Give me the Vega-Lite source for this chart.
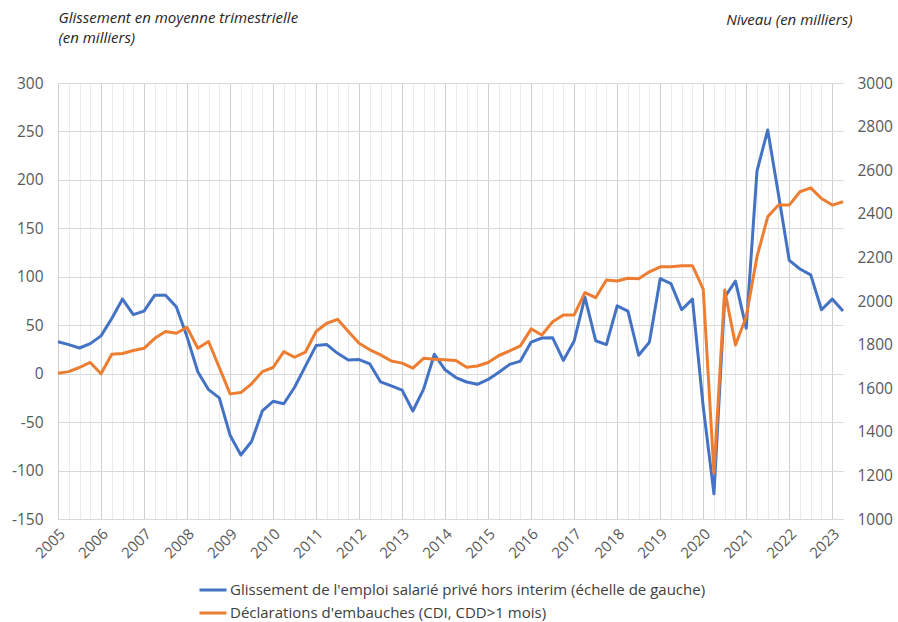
{
  "$schema": "https://vega.github.io/schema/vega-lite/v6.json",
  "width": 785,
  "height": 436,
  "autosize": {"type": "none"},
  "padding": {"left": 58, "top": 83, "right": 55, "bottom": 103},
  "background": "white",
  "config": {"font": "Open Sans", "view": {"stroke": null}},
  "data": {"values": [
    {"t": 2005.00, "g": 33, "d": 1669},
    {"t": 2005.25, "g": 30, "d": 1676},
    {"t": 2005.50, "g": 26.5, "d": 1695},
    {"t": 2005.75, "g": 31, "d": 1718},
    {"t": 2006.00, "g": 39, "d": 1666},
    {"t": 2006.25, "g": 57, "d": 1756},
    {"t": 2006.50, "g": 77, "d": 1759},
    {"t": 2006.75, "g": 61, "d": 1773},
    {"t": 2007.00, "g": 64.6, "d": 1783},
    {"t": 2007.25, "g": 81, "d": 1829},
    {"t": 2007.50, "g": 81, "d": 1860},
    {"t": 2007.75, "g": 69, "d": 1852},
    {"t": 2008.00, "g": 38, "d": 1879},
    {"t": 2008.25, "g": 2, "d": 1783},
    {"t": 2008.50, "g": -16.5, "d": 1814},
    {"t": 2008.75, "g": -25, "d": 1695},
    {"t": 2009.00, "g": -63.5, "d": 1574},
    {"t": 2009.25, "g": -84, "d": 1580},
    {"t": 2009.50, "g": -70, "d": 1620},
    {"t": 2009.75, "g": -38.5, "d": 1676},
    {"t": 2010.00, "g": -28.5, "d": 1695},
    {"t": 2010.25, "g": -31, "d": 1768},
    {"t": 2010.50, "g": -14, "d": 1742},
    {"t": 2010.75, "g": 7.5, "d": 1765},
    {"t": 2011.00, "g": 29, "d": 1860},
    {"t": 2011.25, "g": 30, "d": 1898},
    {"t": 2011.50, "g": 21, "d": 1916},
    {"t": 2011.75, "g": 14, "d": 1860},
    {"t": 2012.00, "g": 14.5, "d": 1806},
    {"t": 2012.25, "g": 10, "d": 1776},
    {"t": 2012.50, "g": -8.5, "d": 1753},
    {"t": 2012.75, "g": -12.7, "d": 1725},
    {"t": 2013.00, "g": -17, "d": 1715},
    {"t": 2013.25, "g": -38.5, "d": 1692},
    {"t": 2013.50, "g": -16, "d": 1737},
    {"t": 2013.75, "g": 20, "d": 1733},
    {"t": 2014.00, "g": 4, "d": 1730},
    {"t": 2014.25, "g": -4, "d": 1727},
    {"t": 2014.50, "g": -8.6, "d": 1696},
    {"t": 2014.75, "g": -11, "d": 1702},
    {"t": 2015.00, "g": -6, "d": 1718},
    {"t": 2015.25, "g": 1.4, "d": 1750},
    {"t": 2015.50, "g": 9.6, "d": 1771},
    {"t": 2015.75, "g": 13, "d": 1794},
    {"t": 2016.00, "g": 32.6, "d": 1872},
    {"t": 2016.25, "g": 36.8, "d": 1844},
    {"t": 2016.50, "g": 37, "d": 1905},
    {"t": 2016.75, "g": 13.7, "d": 1936},
    {"t": 2017.00, "g": 33.7, "d": 1936},
    {"t": 2017.25, "g": 79, "d": 2038},
    {"t": 2017.50, "g": 34, "d": 2015},
    {"t": 2017.75, "g": 30, "d": 2096},
    {"t": 2018.00, "g": 70, "d": 2092},
    {"t": 2018.25, "g": 64.6, "d": 2104},
    {"t": 2018.50, "g": 19, "d": 2102},
    {"t": 2018.75, "g": 32.6, "d": 2134},
    {"t": 2019.00, "g": 98, "d": 2157},
    {"t": 2019.25, "g": 93, "d": 2157},
    {"t": 2019.50, "g": 66, "d": 2162},
    {"t": 2019.75, "g": 77, "d": 2162},
    {"t": 2020.00, "g": -34, "d": 2055},
    {"t": 2020.25, "g": -124, "d": 1211},
    {"t": 2020.50, "g": 79, "d": 2050},
    {"t": 2020.75, "g": 95.5, "d": 1798},
    {"t": 2021.00, "g": 47, "d": 1928},
    {"t": 2021.25, "g": 209, "d": 2203},
    {"t": 2021.50, "g": 251.5, "d": 2386},
    {"t": 2021.75, "g": 185, "d": 2440},
    {"t": 2022.00, "g": 117, "d": 2440},
    {"t": 2022.25, "g": 108, "d": 2501},
    {"t": 2022.50, "g": 102, "d": 2519},
    {"t": 2022.75, "g": 66, "d": 2470},
    {"t": 2023.00, "g": 77, "d": 2440},
    {"t": 2023.25, "g": 64.6, "d": 2455}
  ]},
  "encoding": {
    "x": {
      "field": "t",
      "type": "quantitative",
      "scale": {"domain": [2005, 2023.25], "nice": false, "zero": false},
      "axis": {
        "title": null,
        "values": [2005,2005.25,2005.5,2005.75,2006,2006.25,2006.5,2006.75,2007,2007.25,2007.5,2007.75,2008,2008.25,2008.5,2008.75,2009,2009.25,2009.5,2009.75,2010,2010.25,2010.5,2010.75,2011,2011.25,2011.5,2011.75,2012,2012.25,2012.5,2012.75,2013,2013.25,2013.5,2013.75,2014,2014.25,2014.5,2014.75,2015,2015.25,2015.5,2015.75,2016,2016.25,2016.5,2016.75,2017,2017.25,2017.5,2017.75,2018,2018.25,2018.5,2018.75,2019,2019.25,2019.5,2019.75,2020,2020.25,2020.5,2020.75,2021,2021.25,2021.5,2021.75,2022,2022.25,2022.5,2022.75,2023],
        "labelExpr": "datum.value % 1 === 0 ? format(datum.value, 'd') : ''",
        "labelAngle": -45,
        "labelAlign": "right",
        "labelBaseline": "middle",
        "labelFontSize": 15,
        "labelColor": "#595959",
        "labelPadding": 12,
        "labelOffset": 4,
        "labelOverlap": false,
        "labelFlush": false,
        "ticks": false,
        "domainColor": "#d9d9d9",
        "grid": true,
        "gridColor": {"condition": {"test": "datum.value % 1 === 0", "value": "#d0d0d0"}, "value": "#ebebeb"},
        "gridWidth": 1
      }
    }
  },
  "layer": [
    {
      "mark": {"type": "line", "strokeWidth": 3, "strokeJoin": "round"},
      "encoding": {
        "y": {
          "field": "g",
          "type": "quantitative",
          "scale": {"domain": [-150, 300], "nice": false, "zero": false},
          "axis": {
            "orient": "left",
            "values": [-150, -100, -50, 0, 50, 100, 150, 200, 250, 300],
            "labelExpr": "toString(datum.value)",
            "labelFontSize": 15.5,
            "labelColor": "#595959",
            "labelPadding": 15,
            "ticks": false,
            "domain": false,
            "grid": true,
            "gridColor": "#d9d9d9",
            "title": ["Glissement en moyenne trimestrielle", "(en milliers)"],
            "titleAngle": 0,
            "titleAlign": "left",
            "titleBaseline": "alphabetic",
            "titleX": 0,
            "titleY": -61,
            "titleFontSize": 15,
            "titleFontStyle": "italic",
            "titleFontWeight": "normal",
            "titleLineHeight": 20,
            "titleColor": "#262626"
          }
        },
        "color": {
          "datum": "Glissement de l'emploi salarié privé hors interim (échelle de gauche)",
          "type": "nominal",
          "scale": {
            "domain": ["Glissement de l'emploi salarié privé hors interim (échelle de gauche)", "Déclarations d'embauches (CDI, CDD>1 mois)"],
            "range": ["#4472C4", "#ED7D31"]
          },
          "legend": {
            "title": null,
            "orient": "none",
            "legendX": 140,
            "legendY": 492,
            "direction": "vertical",
            "symbolType": "stroke",
            "symbolSize": 729,
            "symbolStrokeWidth": 3,
            "labelFontSize": 15,
            "labelColor": "#404040",
            "labelLimit": 700,
            "labelOffset": 2,
            "rowPadding": 0
          }
        }
      }
    },
    {
      "mark": {"type": "line", "strokeWidth": 3, "strokeJoin": "round"},
      "encoding": {
        "y": {
          "field": "d",
          "type": "quantitative",
          "scale": {"domain": [1000, 3000], "nice": false, "zero": false},
          "axis": {
            "orient": "right",
            "values": [1000, 1200, 1400, 1600, 1800, 2000, 2200, 2400, 2600, 2800, 3000],
            "format": "d",
            "labelFontSize": 15.5,
            "labelColor": "#595959",
            "labelPadding": 14,
            "ticks": false,
            "domain": false,
            "grid": false,
            "title": "Niveau (en milliers)",
            "titleAngle": 0,
            "titleAlign": "right",
            "titleBaseline": "alphabetic",
            "titleX": 9,
            "titleY": -59,
            "titleFontSize": 15,
            "titleFontStyle": "italic",
            "titleFontWeight": "normal",
            "titleColor": "#262626"
          }
        },
        "color": {"datum": "Déclarations d'embauches (CDI, CDD>1 mois)", "type": "nominal"}
      }
    }
  ],
  "resolve": {"scale": {"y": "independent"}}
}
